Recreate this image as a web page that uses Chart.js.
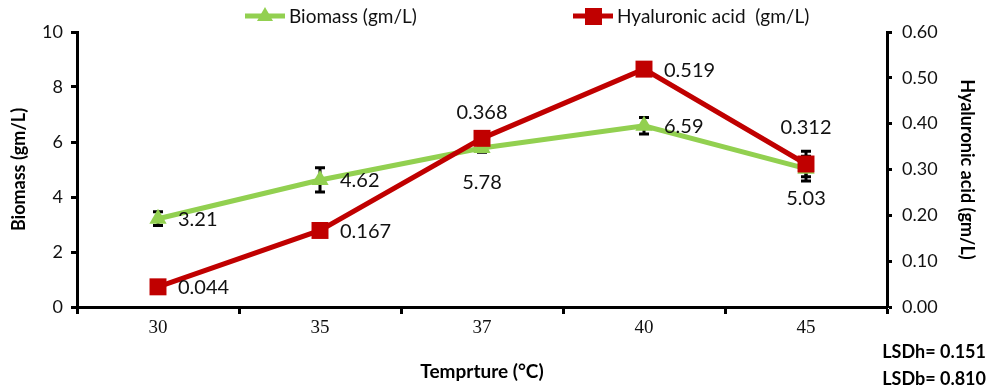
<!DOCTYPE html>
<html>
<head>
<meta charset="utf-8">
<script src="https://cdn.jsdelivr.net/npm/chart.js@4"></script>
<style>
  body { margin: 0; background: #fff; }
  #wrap { width: 991px; height: 392px; }
</style>
</head>
<body>
<div id="wrap"><canvas id="myChart" width="991" height="392"></canvas></div>
<script>
const temps = ['30', '35', '37', '40', '45'];
const biomass = [3.21, 4.62, 5.78, 6.59, 5.03];
const biomassErr = [0.25, 0.44, 0.15, 0.3, 0.45];
const hyaluronic = [0.044, 0.167, 0.368, 0.519, 0.312];
const hyaluronicErr = [0.005, 0.005, 0.012, 0.01, 0.028];
const biomassTicks = [0, 2, 4, 6, 8, 10];
const haTicks = [0, 0.1, 0.2, 0.3, 0.4, 0.5, 0.6];
const lsdText = ['LSDh= 0.151', 'LSDb= 0.810'];

const green = '#92D050';
const red = '#C00000';
const sans = 'Lato, "Open Sans", sans-serif';

// legend drawn by hand: short line with marker, then the label
function drawLegendItem(ctx, x, y, color, shape, text) {
    ctx.strokeStyle = color;
    ctx.lineWidth = 5;
    ctx.beginPath();
    ctx.moveTo(x, y); ctx.lineTo(x + 40, y);
    ctx.stroke();
    ctx.fillStyle = color;
    ctx.beginPath();
    if (shape === 'triangle') {
        ctx.moveTo(x + 20, y - 9); ctx.lineTo(x + 28, y + 5); ctx.lineTo(x + 12, y + 5);
    } else {
        ctx.rect(x + 12, y - 8, 17, 17);
    }
    ctx.fill();
    ctx.fillStyle = '#111';
    ctx.textAlign = 'left';
    ctx.textBaseline = 'middle';
    ctx.fillText(text, x + 44, y + 1);
}

// error bars (behind markers) + value labels + legend + LSD notes
const extras = {
    id: 'extras',
    beforeDatasetsDraw(chart) {
        const ctx = chart.ctx;
        const x = chart.scales.x;
        const sets = [
            { data: biomass, err: biomassErr, scale: chart.scales.y },
            { data: hyaluronic, err: hyaluronicErr, scale: chart.scales.y1 }
        ];
        ctx.save();
        ctx.strokeStyle = '#000';
        ctx.lineWidth = 3;
        sets.forEach(s => {
            s.data.forEach((v, i) => {
                const px = x.getPixelForValue(i);
                const top = s.scale.getPixelForValue(v + s.err[i]);
                const bot = s.scale.getPixelForValue(v - s.err[i]);
                ctx.beginPath();
                ctx.moveTo(px, top); ctx.lineTo(px, bot);
                ctx.moveTo(px - 5, top); ctx.lineTo(px + 5, top);
                ctx.moveTo(px - 5, bot); ctx.lineTo(px + 5, bot);
                ctx.stroke();
            });
        });
        ctx.restore();
    },
    afterDraw(chart) {
        const ctx = chart.ctx;
        const x = chart.scales.x;
        const y = chart.scales.y;
        const y1 = chart.scales.y1;
        ctx.save();
        ctx.fillStyle = '#111';
        ctx.font = '20px ' + sans;
        ctx.textBaseline = 'middle';
        // biomass labels: right, right, below, right, below
        const bPos = [['r', 0], ['r', 0], ['b', 34], ['r', 0], ['b', 30]];
        biomass.forEach((v, i) => {
            const px = x.getPixelForValue(i);
            const py = y.getPixelForValue(v);
            if (bPos[i][0] === 'r') {
                ctx.textAlign = 'left';
                ctx.fillText(v.toFixed(2), px + 20, py + 1);
            } else {
                ctx.textAlign = 'center';
                ctx.fillText(v.toFixed(2), px, py + bPos[i][1]);
            }
        });
        const hPos = [['r', 0], ['r', 0], ['a', 26], ['r', 0], ['a', 36]];
        hyaluronic.forEach((v, i) => {
            const px = x.getPixelForValue(i);
            const py = y1.getPixelForValue(v);
            if (hPos[i][0] === 'r') {
                ctx.textAlign = 'left';
                ctx.fillText(v.toFixed(3), px + 20, py + 1);
            } else {
                ctx.textAlign = 'center';
                ctx.fillText(v.toFixed(3), px, py - hPos[i][1]);
            }
        });

        ctx.font = '19px ' + sans;
        const ds = chart.data.datasets;
        drawLegendItem(ctx, 245, 16, ds[0].borderColor, 'triangle', ds[0].label);
        drawLegendItem(ctx, 573, 16, ds[1].borderColor, 'rect', ds[1].label);

        ctx.font = 'bold 18px ' + sans;
        ctx.textAlign = 'right';
        ctx.textBaseline = 'middle';
        ctx.fillStyle = '#000';
        ctx.fillText(lsdText[0], 986, 352);
        ctx.fillText(lsdText[1], 986, 379);
        ctx.restore();
    }
};

let config = {
    type: 'line',
    data: {
        labels: temps,
        datasets: [{
            label: 'Biomass (gm/L)',
            data: biomass,
            yAxisID: 'y',
            borderColor: green,
            backgroundColor: green,
            borderWidth: 5,
            pointStyle: 'triangle',
            pointRadius: 10,
            pointHoverRadius: 10,
            pointBorderWidth: 0,
            order: 2
        }, {
            label: 'Hyaluronic acid  (gm/L)',
            data: hyaluronic,
            yAxisID: 'y1',
            borderColor: red,
            backgroundColor: red,
            borderWidth: 5,
            pointStyle: 'rect',
            pointRadius: 12,
            pointHoverRadius: 12,
            pointBorderWidth: 0,
            order: 1
        }]
    },
    options: {
        responsive: false,
        animation: false,
        layout: { padding: { top: 32, left: 0, right: 0, bottom: 0 } },
        plugins: {
            tooltip: { enabled: false },
            legend: { display: false }
        },
        scales: {
            x: {
                offset: true,
                grid: { display: true, drawOnChartArea: false, offset: true, tickLength: 7, tickWidth: 3, tickColor: '#000' },
                border: { color: '#000', width: 3 },
                ticks: { color: '#111', font: { family: '"Liberation Serif", serif', size: 19 }, padding: 3 },
                title: {
                    display: true,
                    text: 'Temprture (\u00B0C)',
                    color: '#000',
                    font: { family: sans, size: 19, weight: 'bold' },
                    padding: { top: 5, bottom: 9 }
                },
                afterFit(s) { s.height = 85; }
            },
            y: {
                position: 'left',
                min: 0, max: 10,
                afterBuildTicks(s) { s.ticks = biomassTicks.map(v => ({ value: v })); },
                grid: { display: true, drawOnChartArea: false, tickLength: 6, tickWidth: 3, tickColor: '#000' },
                border: { color: '#000', width: 3 },
                ticks: { color: '#111', font: { family: sans, size: 18 }, padding: 8 },
                title: {
                    display: true,
                    text: 'Biomass (gm/L)',
                    color: '#000',
                    font: { family: sans, size: 18, weight: 'bold' },
                    padding: { top: 8, bottom: 8 }
                },
                afterFit(s) { s.width = 77; }
            },
            y1: {
                position: 'right',
                min: 0, max: 0.6,
                afterBuildTicks(s) { s.ticks = haTicks.map(v => ({ value: v })); },
                grid: { display: true, drawOnChartArea: false, tickLength: 5, tickWidth: 3, tickColor: '#000' },
                border: { color: '#000', width: 3 },
                ticks: {
                    color: '#111', font: { family: sans, size: 18 }, padding: 10,
                    callback: v => v.toFixed(2)
                },
                title: {
                    display: true,
                    text: 'Hyaluronic acid (gm/L)',
                    color: '#000',
                    font: { family: sans, size: 18, weight: 'bold' },
                    padding: { top: 13, bottom: 13 }
                },
                afterFit(s) { s.width = 104; }
            }
        }
    },
    plugins: [extras]
};

let myChart = new Chart(document.getElementById('myChart'), config);
</script>
</body>
</html>
